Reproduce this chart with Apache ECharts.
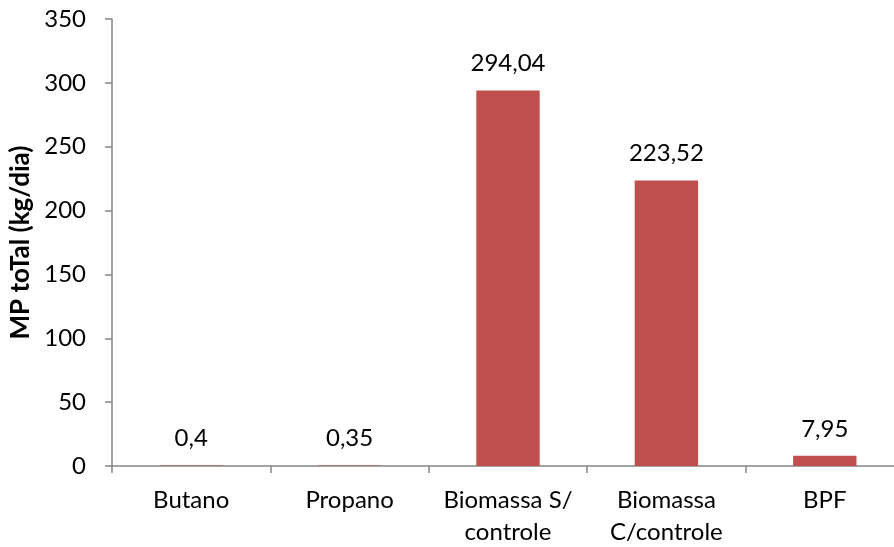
<!DOCTYPE html>
<html>
<head>
<meta charset="utf-8">
<script src="https://cdn.jsdelivr.net/npm/echarts@6/dist/echarts.min.js"></script>
<style>
  html, body { margin: 0; padding: 0; background: #fff; }
  #chart { width: 894px; height: 547px; }
</style>
</head>
<body>
<div id="chart"></div>
<script>
// Particulate matter per fuel type (kg/dia)
const categories = ['Butano', 'Propano', 'Biomassa S/\ncontrole', 'Biomassa\nC/controle', 'BPF'];
const mpTotal = [0.4, 0.35, 294.04, 223.52, 7.95];
const yTicks = { min: 0, max: 350, interval: 50 };
const yTitle = 'MP toTal (kg/dia)';

const FONT = 'Lato, "Open Sans", sans-serif';
const AXIS_GREY = '#868686';

const chart = echarts.init(document.getElementById('chart'), null, { renderer: 'canvas' });
chart.setOption({
  animation: false,
  backgroundColor: '#ffffff',
  // the last category runs past the right edge of the canvas
  grid: { left: 112, width: 792, top: 19, bottom: 81, outerBoundsMode: 'none', containLabel: false },
  xAxis: {
    type: 'category',
    data: categories,
    axisLine: { lineStyle: { color: AXIS_GREY, width: 1.5 } },
    axisTick: { show: true, length: 7, lineStyle: { color: AXIS_GREY, width: 1.5 } },
    axisLabel: {
      interval: 0,
      color: '#000',
      fontFamily: FONT,
      fontSize: 24,
      lineHeight: 32,
      margin: 18
    }
  },
  yAxis: {
    type: 'value',
    min: yTicks.min,
    max: yTicks.max,
    interval: yTicks.interval,
    name: yTitle,
    nameLocation: 'middle',
    nameRotate: 90,
    nameGap: 72,
    nameTextStyle: { color: '#000', fontFamily: FONT, fontSize: 26, fontWeight: 'bold' },
    axisLine: { show: true, lineStyle: { color: AXIS_GREY, width: 1.5 } },
    axisTick: { show: true, length: 7, lineStyle: { color: AXIS_GREY, width: 1.5 } },
    splitLine: { show: false },
    axisLabel: { color: '#000', fontFamily: FONT, fontSize: 24, margin: 26 }
  },
  series: [{
    type: 'bar',
    data: mpTotal,
    barWidth: '40%',
    itemStyle: { color: '#C0504D' },
    label: {
      show: true,
      position: 'top',
      distance: 15,
      color: '#000',
      fontFamily: FONT,
      fontSize: 24,
      formatter: p => String(p.value).replace('.', ',')
    }
  }]
});
</script>
</body>
</html>
